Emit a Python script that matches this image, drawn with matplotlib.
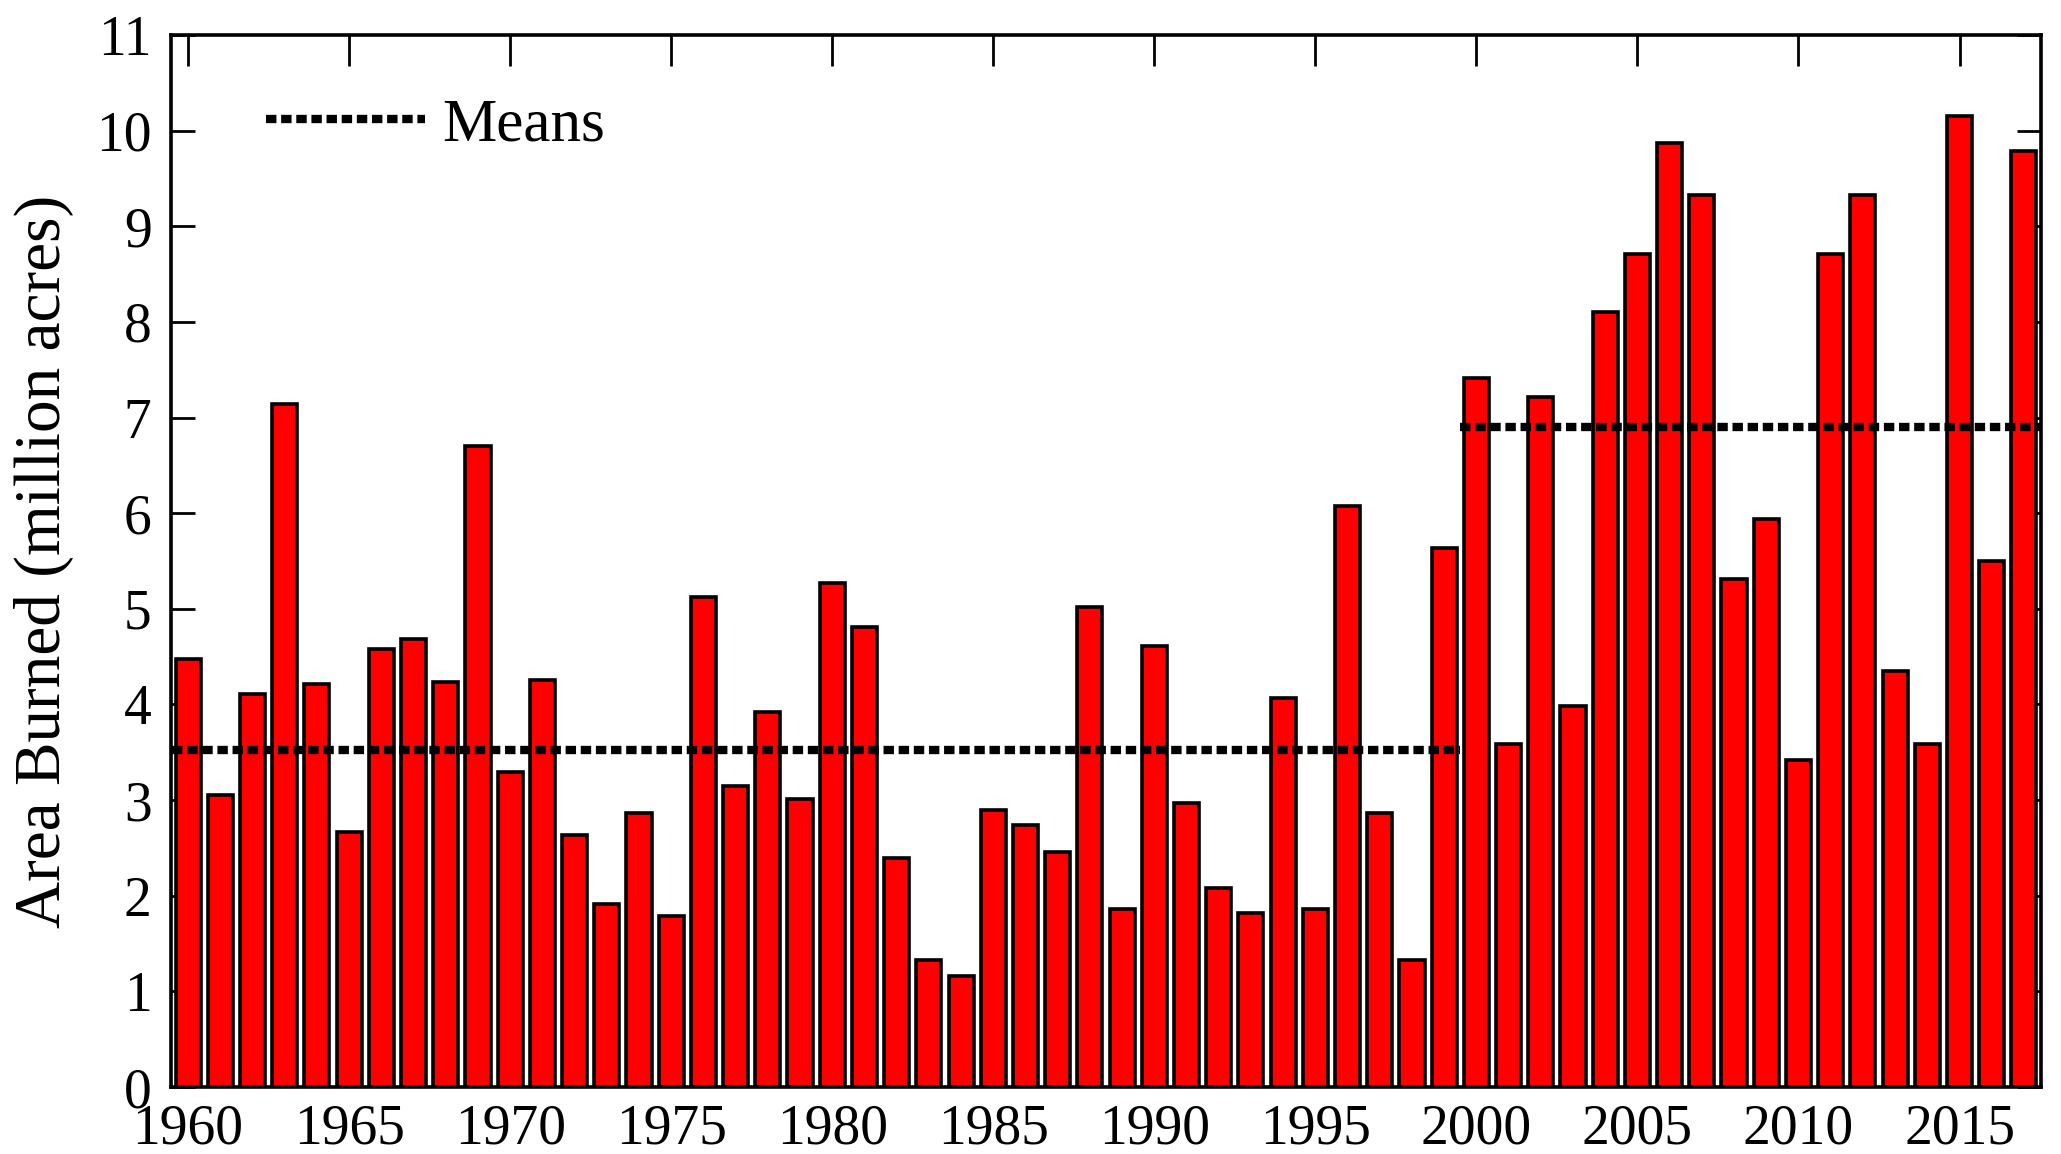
import matplotlib
matplotlib.use("Agg")
import matplotlib.pyplot as plt
from matplotlib.lines import Line2D

years = list(range(1960, 2018))
area_burned = [
    4.48, 3.05, 4.11, 7.14, 4.21, 2.67, 4.58, 4.68, 4.24, 6.70,
    3.29, 4.26, 2.64, 1.91, 2.87, 1.79, 5.12, 3.15, 3.92, 3.01,
    5.27, 4.81, 2.39, 1.33, 1.16, 2.90, 2.74, 2.46, 5.02, 1.86,
    4.61, 2.97, 2.08, 1.82, 4.07, 1.86, 6.08, 2.87, 1.33, 5.64,
    7.41, 3.59, 7.22, 3.98, 8.10, 8.71, 9.87, 9.33, 5.31, 5.94,
    3.42, 8.71, 9.33, 4.35, 3.59, 10.15, 5.50, 9.79,
]
mean_periods = [(1959.5, 1999.5), (1999.5, 2017.5)]
mean_values = [3.52, 6.90]
x_ticks = [1960, 1965, 1970, 1975, 1980, 1985, 1990, 1995, 2000, 2005, 2010, 2015]
y_ticks = list(range(0, 12))
y_label = "Area Burned (million acres)"
legend_label = "Means"

plt.rcParams['font.family'] = ['Liberation Serif', 'DejaVu Serif']
plt.rcParams['lines.scale_dashes'] = False

fig = plt.figure(figsize=(20.61, 11.54), dpi=100)
ax = fig.add_axes([171 / 2061, 1 - 1087 / 1154, (2041 - 171) / 2061, (1087 - 35) / 1154])

ax.bar(years, area_burned, width=0.78, color='#ff0000', edgecolor='black',
       linewidth=2.6, zorder=2)

dash = (0, (7.5, 3.4))
for (x0, x1), m in zip(mean_periods, mean_values):
    ax.plot([x0, x1], [m, m], color='black', linewidth=6, linestyle=dash,
            zorder=3, solid_capstyle='butt', dash_capstyle='butt')

ax.set_xlim(1959.47, 2017.53)
ax.set_ylim(0, 11)
ax.set_xticks(x_ticks)
ax.set_yticks(y_ticks)
ax.tick_params(axis='x', direction='in', length=22, width=2, top=True,
               labelsize=40, pad=12)
ax.tick_params(axis='y', direction='in', length=17, width=2, right=True,
               labelsize=40, pad=14)
for s in ax.spines.values():
    s.set_linewidth(2.6)
    s.set_zorder(4)

ax.set_ylabel(y_label, fontsize=47)
ax.yaxis.set_label_coords(-0.052, 0.5)

handle = Line2D([], [], color='black', linewidth=6, linestyle=dash,
                dash_capstyle='butt')
ax.legend([handle], [legend_label], loc='center left',
          bbox_to_anchor=(0.0508, 10.05 / 11), frameon=False, fontsize=44,
          handlelength=2.6, handletextpad=0.28, borderpad=0, borderaxespad=0)

fig.savefig("out.png", dpi=100)
